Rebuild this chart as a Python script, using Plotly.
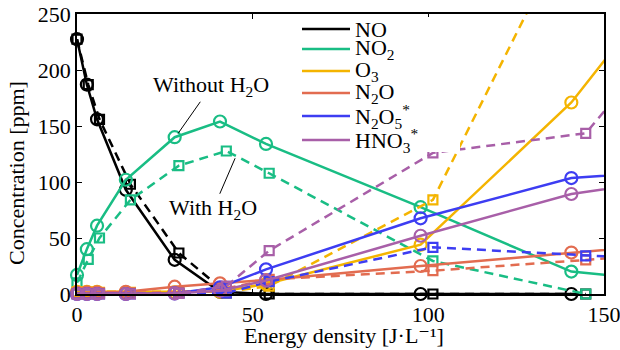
import plotly.graph_objects as go

# ---- data ----
species = ["NO", "NO<sub>2</sub>", "O<sub>3</sub>", "N<sub>2</sub>O",
           "N<sub>2</sub>O<sub>5</sub><sup>*</sup>", "HNO<sub>3</sub><sup>*</sup>"]
colors = ["#000000", "#19bd84", "#f4b400", "#e26c50", "#3d3df2", "#a85fa8"]

# without water (circles, solid)
x_dry = [0, 2.8, 5.7, 13.9, 27.8, 40.7, 53.8, 97.8, 140.7, 160]
no_dry = [227.5, 187, 156, 93, 30.5, 2, 0, 0, 0, None]
no2_dry = [17, 40, 61, 102, 140, 154, 134, 77.5, 20, 14]
o3_dry = [2, 2, 2, 1.5, 1.5, 2, 9, 44, 171, 248]
n2o_dry = [1, 1.5, 1.5, 2, 6.5, 9.5, 12.5, 25, 37, 42]
n2o5_dry = [0, 0, 0, 0, 0.5, 6, 22, 67.6, 103.5, 108]
hno3_dry = [0, 0, 0, 0, 0.5, 3, 12, 52, 89.3, 98]

# with water (squares, dashed)
x_wet = [0, 3.2, 6.4, 15.2, 29, 42.5, 54.7, 101.3, 144.8, 160]
no_wet = [227.5, 187, 156, 98, 36.6, 1, 0, 0, 0, None]
no2_wet = [10, 31, 50, 84, 114.6, 127.7, 107.8, 29.5, 0, None]
o3_wet = [2, 2, 1.5, 1.5, 1.5, 2, 7, 84, 356, None]
n2o_wet = [0.5, 0.5, 1, 1, 1.5, 5, 13, 20.8, 30.4, 34]
n2o5_wet = [0, 0, 0, 0, 0.5, 1, 11, 41.7, 34, 32]
hno3_wet = [0, 0, 0, 0, 0.5, 7, 38.7, 126, 143.5, 200]

dry = [no_dry, no2_dry, o3_dry, n2o_dry, n2o5_dry, hno3_dry]
wet = [no_wet, no2_wet, o3_wet, n2o_wet, n2o5_wet, hno3_wet]

x_ticks = [0, 50, 100, 150]
y_ticks = [0, 50, 100, 150, 200, 250]
X_MAX, Y_MAX = 150, 250
x_title = "Energy density [J·L⁻¹]"
y_title = "Concentration [ppm]"

FONT = "Liberation Serif, DejaVu Serif, serif"
FS = 22

# layout geometry (pixels)
W, H = 620, 350
ML, MR, MT, MB = 77, 16, 14, 56
PW, PH = W - ML - MR, H - MT - MB


def px2paper_x(px):
    return (px - ML) / PW


def px2paper_y(py):
    return (H - MB - py) / PH


fig = go.Figure()


def clean(xs, ys):
    pts = [(a, b) for a, b in zip(xs, ys) if b is not None]
    return [p[0] for p in pts], [p[1] for p in pts]


def visible(xs, ys):
    pts = [(a, b) for a, b in zip(xs, ys) if b is not None and a <= X_MAX and b <= Y_MAX]
    return [p[0] for p in pts], [p[1] for p in pts]


for name, col, yd, yw in zip(species, colors, dry, wet):
    xs, ys = clean(x_wet, yw)
    fig.add_trace(go.Scatter(x=xs, y=ys, mode="lines", showlegend=False,
                             line=dict(color=col, width=2.5, dash="9px,6px"),
                             hoverinfo="skip"))
    xs, ys = visible(x_wet, yw)
    fig.add_trace(go.Scatter(x=xs, y=ys, mode="markers", showlegend=False,
                             cliponaxis=False,
                             marker=dict(symbol="square-open", size=9, color=col,
                                         line=dict(width=2.2, color=col)),
                             hoverinfo="skip"))
    xs, ys = clean(x_dry, yd)
    fig.add_trace(go.Scatter(x=xs, y=ys, mode="lines", name=name, showlegend=False,
                             line=dict(color=col, width=2.5)))
    xs, ys = visible(x_dry, yd)
    fig.add_trace(go.Scatter(x=xs, y=ys, mode="markers", showlegend=False,
                             cliponaxis=False,
                             marker=dict(symbol="circle-open", size=12, color=col,
                                         line=dict(width=2.2, color=col)),
                             hoverinfo="skip"))

axis_common = dict(showline=True, linecolor="black", linewidth=1.5, mirror="ticks",
                   ticks="inside", ticklen=5, tickcolor="black", tickwidth=1,
                   showgrid=False, zeroline=False, automargin=False,
                   ticklabeloverflow="allow",
                   tickfont=dict(family=FONT, size=FS, color="black"))

fig.update_xaxes(range=[0, X_MAX], tickvals=x_ticks, ticklabelstandoff=0, **axis_common)
fig.update_yaxes(range=[0, Y_MAX], tickvals=y_ticks, **axis_common)

# axis titles as positioned text
fig.add_annotation(x=px2paper_x(344), y=px2paper_y(335), xref="paper", yref="paper",
                   xanchor="center", yanchor="middle", showarrow=False,
                   text=x_title, font=dict(family=FONT, size=FS, color="black"))
fig.add_annotation(x=px2paper_x(16), y=px2paper_y(173), xref="paper", yref="paper",
                   xanchor="center", yanchor="middle", showarrow=False, textangle=-90,
                   text=y_title, font=dict(family=FONT, size=FS, color="black"))

fig.add_annotation(x=28.8, y=143.5, xref="x", yref="y", ax=33, ay=-47,
                   text="Without H<sub>2</sub>O", showarrow=True, arrowhead=0,
                   arrowwidth=1, arrowcolor="black",
                   font=dict(family=FONT, size=FS, color="black"))
fig.add_annotation(x=45, y=121.2, xref="x", yref="y", ax=-22, ay=51,
                   text="With H<sub>2</sub>O", showarrow=True, arrowhead=0,
                   arrowwidth=1, arrowcolor="black",
                   font=dict(family=FONT, size=FS, color="black"))

# ---- hand-made legend (white box over the lines) ----
fig.add_shape(type="rect", xref="paper", yref="paper", layer="above",
              x0=px2paper_x(297), x1=px2paper_x(460),
              y0=px2paper_y(152), y1=px2paper_y(17),
              fillcolor="white", line=dict(width=0))
legend_rows_px = [29, 49, 71, 93, 116, 140]
for name, col, py in zip(species, colors, legend_rows_px):
    fig.add_shape(type="line", xref="paper", yref="paper", layer="above",
                  x0=px2paper_x(302), x1=px2paper_x(350),
                  y0=px2paper_y(py), y1=px2paper_y(py),
                  line=dict(color=col, width=2.5))
    fig.add_annotation(x=px2paper_x(353), y=px2paper_y(py), xref="paper", yref="paper",
                       xanchor="left", yanchor="middle", showarrow=False,
                       text=name, font=dict(family=FONT, size=FS, color="black"))

fig.update_layout(
    width=W, height=H,
    margin=dict(l=ML, r=MR, t=MT, b=MB, autoexpand=False),
    paper_bgcolor="white", plot_bgcolor="white",
    font=dict(family=FONT, size=FS, color="black"),
    showlegend=False,
)

fig.write_html("out.html")
